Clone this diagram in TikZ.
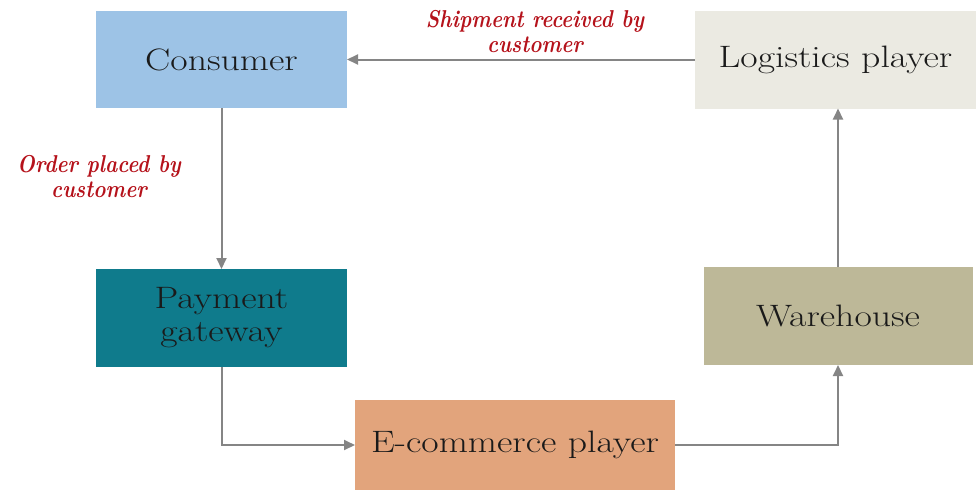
\documentclass[tikz,border=0pt]{standalone}
\usepackage{graphicx}
\usetikzlibrary{arrows.meta}
\definecolor{cblue}{HTML}{9DC3E6}
\definecolor{clog}{HTML}{EBEAE2}
\definecolor{cteal}{HTML}{0F7B8C}
\definecolor{cware}{HTML}{BDB898}
\definecolor{ceco}{HTML}{E2A47C}
\definecolor{carr}{HTML}{858585}
\definecolor{cred}{HTML}{B5121B}
\definecolor{ctxt}{HTML}{1A1A1A}
\newcommand{\wtext}[1]{\scalebox{1.28}[1.05]{#1}}
\newcommand{\ltext}[1]{\scalebox{1.04}[1.22]{\begin{tabular}{@{}c@{}}#1\end{tabular}}}
\begin{document}
\begin{tikzpicture}[x=1pt,y=-1pt,
  box/.style={inner sep=0pt,outer sep=0pt,text=ctxt,align=center,
    font=\fontsize{29.5}{31.5}\selectfont},
  lbl/.style={inner sep=0pt,text=cred,align=center,
    font=\fontsize{20}{20.5}\selectfont\bfseries\itshape},
  arr/.style={draw=carr,line width=2pt,-{Triangle[length=11pt,width=10pt]}}]
\useasboundingbox (0,0) rectangle (976,490);
\node[box,fill=cblue,minimum width=251pt,minimum height=97pt] (con) at (221.5,59.5) {\wtext{Consumer}};
\node[box,fill=clog,minimum width=281pt,minimum height=98pt] (log) at (835.5,59.5) {\wtext{Logistics player}};
\node[box,fill=cteal,minimum width=251pt,minimum height=98pt] (pay) at (221.5,318) {\wtext{\begin{tabular}{@{}c@{}}Payment\\gateway\end{tabular}}};
\node[box,fill=cware,minimum width=269pt,minimum height=98pt] (war) at (838,316) {\wtext{Warehouse}};
\node[box,fill=ceco,minimum width=320pt,minimum height=90pt] (eco) at (515,445) {\wtext{E-commerce player}};
\node[lbl] (l1) at (535,35) {\ltext{Shipment received by\\customer}};
\node[lbl] (l2) at (99,180) {\ltext{Order placed by\\customer}};
\draw[arr] (log) -- (con);
\draw[arr] (con) -- (pay);
\draw[arr] (pay.south) |- (eco.west);
\draw[arr] (eco.east) -| (war.south);
\draw[arr] (war) -- (war |- log.south);
\end{tikzpicture}
\end{document}
